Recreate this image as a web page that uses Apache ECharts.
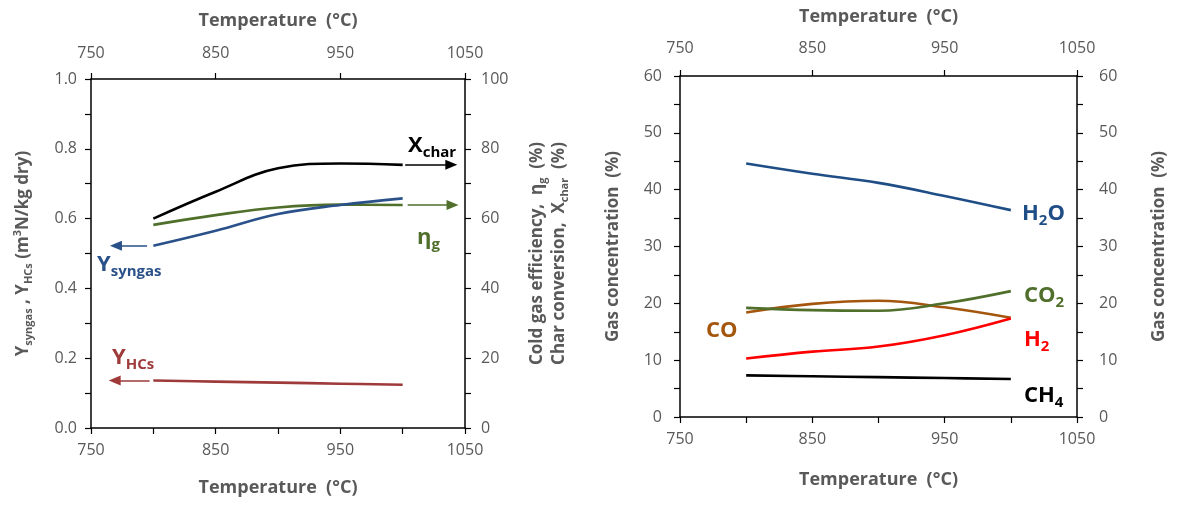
<!DOCTYPE html>
<html>
<head>
<meta charset="utf-8">
<script src="https://cdn.jsdelivr.net/npm/echarts@6/dist/echarts.min.js"></script>
<style>
html,body{margin:0;padding:0;background:#fff;}
#chart{width:1179px;height:507px;}
</style>
</head>
<body>
<div id="chart"></div>
<script>
// ---- data ----
const temps = [800, 850, 900, 950, 1000];
// left chart (right axis, %)
const xChar = [60.0, 67.7, 74.4, 75.8, 75.4];
const etaG = [58.2, 61.0, 63.2, 64.0, 63.9];
// left chart (left axis, m3N/kg dry)
const ySyngas = [0.522, 0.565, 0.613, 0.639, 0.658];
const yHCs = [0.136, 0.133, 0.130, 0.127, 0.124];
// right chart (%)
const h2o = [44.6, 42.8, 41.2, 38.9, 36.4];
const co = [18.4, 19.9, 20.45, 19.3, 17.45];
const co2 = [19.2, 18.8, 18.7, 20.0, 22.15];
const h2 = [10.3, 11.5, 12.4, 14.4, 17.35];
const ch4 = [7.33, 7.17, 7.01, 6.85, 6.69];

const FONT = '"Open Sans", "Noto Sans", sans-serif';
const GRAY = '#595959';
const C = {
  black: '#000000', green: '#4F6F2B', blue: '#2A5189', maroon: '#9E3A3A',
  h2o: '#1F4E87', co: '#A5560E', co2: '#4F6F2B', h2: '#FF0000', ch4: '#000000'
};

const pairs = arr => temps.map((t, i) => [t, arr[i]]);

function xAxes(gridIndex) {
  const base = {
    type: 'value', gridIndex, min: 750, max: 1050,
    splitLine: { show: false },
    axisLine: { show: true, onZero: false, lineStyle: { color: '#000', width: 1.5 } },
    axisTick: { show: true, inside: false, length: 6, lineStyle: { color: '#000', width: 1.2 } },
    name: 'Temperature  (°C)', nameLocation: 'middle',
    nameTextStyle: { fontFamily: FONT, fontSize: 18, fontWeight: 'bold', color: GRAY }
  };
  return [
    Object.assign({}, base, {
      position: 'bottom', interval: 50, nameGap: gridIndex === 0 ? 51 : 54,
      axisLabel: { fontFamily: FONT, fontSize: 16, color: GRAY, margin: 14,
        formatter: v => ((v - 750) % 100 === 0 ? String(v) : '') }
    }),
    Object.assign({}, base, {
      position: 'top', interval: 100, nameGap: gridIndex === 0 ? 49 : 50,
      axisLabel: { fontFamily: FONT, fontSize: 16, color: GRAY, margin: gridIndex === 0 ? 18 : 20,
        formatter: v => String(v) }
    })
  ];
}

function yAxis(gridIndex, position, min, max, interval, fmt, name, nameGap, rich, margin) {
  return {
    type: 'value', gridIndex, position, min, max, interval,
    splitLine: { show: false },
    axisLine: { show: true, onZero: false, lineStyle: { color: '#000', width: 1.5 } },
    axisTick: { show: true, inside: false, length: 6, lineStyle: { color: '#000', width: 1.2 } },
    axisLabel: { fontFamily: FONT, fontSize: 16, color: GRAY, margin, formatter: fmt },
    name, nameLocation: 'middle', nameGap, nameRotate: 90,
    nameTextStyle: Object.assign({ fontFamily: FONT, fontSize: 17, fontWeight: 'bold', color: GRAY, lineHeight: 22 },
      rich ? { rich } : {})
  };
}

const titleRich = {
  b: { fontFamily: FONT, fontSize: 17, fontWeight: 'bold', color: GRAY, lineHeight: 22 },
  s: { fontFamily: FONT, fontSize: 11, fontWeight: 'bold', color: GRAY, verticalAlign: 'bottom', lineHeight: 22 },
  p: { fontFamily: FONT, fontSize: 11, fontWeight: 'bold', color: GRAY, verticalAlign: 'top', lineHeight: 22 }
};

function line(name, data, color, xIdx, yIdx, arrow) {
  const s = {
    name, type: 'line', xAxisIndex: xIdx, yAxisIndex: yIdx,
    data: pairs(data), smooth: 0.4, showSymbol: false, symbol: 'none',
    lineStyle: { color, width: 2.6 }, itemStyle: { color }, silent: true, z: 3
  };
  if (arrow) {
    s.markLine = {
      silent: true, symbol: ['none', 'triangle'], symbolSize: [10, 12],
      label: { show: false }, animation: false,
      lineStyle: { color, width: 1.6, type: 'solid' },
      data: [[{ coord: [arrow[0], arrow[2]] }, { coord: [arrow[1], arrow[2]] }]]
    };
  }
  return s;
}

const option = {
  animation: false,
  backgroundColor: '#fff',
  grid: [
    { left: 91, top: 79, width: 374, height: 349, containLabel: false },
    { left: 680, top: 76, width: 397, height: 341, containLabel: false }
  ],
  xAxis: [...xAxes(0), ...xAxes(1)],
  yAxis: [
    yAxis(0, 'left', 0, 1, 0.1, v => (Math.round(v * 10) % 2 === 0 ? v.toFixed(1) : ''),
      '{b|Y}{s|syngas}{b| , Y}{s|HCs}{b| (m}{p|3}{b|N/kg dry)}', 57, titleRich, 14),
    yAxis(0, 'right', 0, 100, 10, v => (v % 20 === 0 ? String(v) : ''),
      '{b|Cold gas efficiency,  η}{s|g}{b|  (%)}\n{b|Char conversion,  X}{s|char}{b|  (%)}', 61, titleRich, 16),
    yAxis(1, 'left', 0, 60, 5, v => (v % 10 === 0 ? String(v) : ''),
      'Gas concentration  (%)', 56, null, 18),
    yAxis(1, 'right', 0, 60, 5, v => (v % 10 === 0 ? String(v) : ''),
      'Gas concentration  (%)', 71, null, 22)
  ],
  series: [
    line('X_char', xChar, C.black, 0, 1, [1002, 1039, xChar[xChar.length - 1]]),
    line('eta_g', etaG, C.green, 0, 1, [1004, 1040, etaG[etaG.length - 1]]),
    line('Y_syngas', ySyngas, C.blue, 0, 0, [795, 770, ySyngas[0]]),
    line('Y_HCs', yHCs, C.maroon, 0, 0, [797, 769, yHCs[0]]),
    line('H2O', h2o, C.h2o, 2, 2),
    line('CO', co, C.co, 2, 2),
    line('CO2', co2, C.co2, 2, 2),
    line('H2', h2, C.h2, 2, 2),
    line('CH4', ch4, C.ch4, 2, 2)
  ]
};

function lbl(x, y, text, color) {
  return {
    type: 'text', x, y, z: 10, silent: true,
    style: {
      text, verticalAlign: 'middle', align: 'left',
      rich: {
        m: { fontFamily: FONT, fontSize: 22, fontWeight: 'bold', fill: color, color, lineHeight: 28, verticalAlign: 'bottom' },
        s: { fontFamily: FONT, fontSize: 15, fontWeight: 'bold', fill: color, color, lineHeight: 20, verticalAlign: 'bottom', padding: [0, 0, -3, 0] }
      }
    }
  };
}

option.graphic = [
  lbl(408, 143, '{m|X}{s|char}', C.black),
  lbl(417, 235, '{m|η}{s|g}', C.green),
  lbl(97, 262, '{m|Y}{s|syngas}', C.blue),
  lbl(112, 355, '{m|Y}{s|HCs}', C.maroon),
  lbl(1022, 211, '{m|H}{s|2}{m|O}', C.h2o),
  lbl(1024, 293, '{m|CO}{s|2}', C.co2),
  lbl(1024, 337, '{m|H}{s|2}', C.h2),
  lbl(1024, 393, '{m|CH}{s|4}', C.ch4),
  lbl(706, 328, '{m|CO}', C.co)
];

const chart = echarts.init(document.getElementById('chart'), null, { renderer: 'canvas' });
chart.setOption(option);
</script>
</body>
</html>
